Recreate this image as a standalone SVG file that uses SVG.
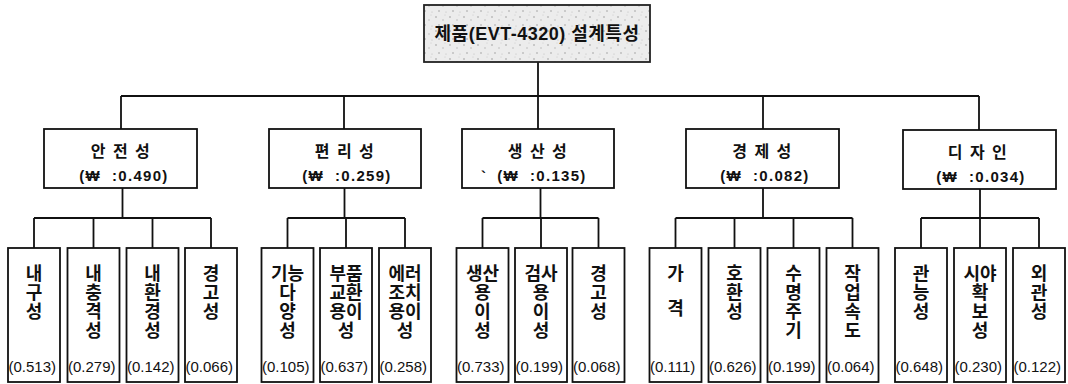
<svg xmlns="http://www.w3.org/2000/svg" width="1068" height="384" viewBox="0 0 1068 384">
<defs>
<pattern id="speck" width="14" height="14" patternUnits="userSpaceOnUse">
<rect width="14" height="14" fill="#ececec"/>
<circle cx="2" cy="3" r="0.8" fill="#9a9a9a"/>
<circle cx="9" cy="6" r="0.7" fill="#b0b0b0"/>
<circle cx="5" cy="11" r="0.8" fill="#a0a0a0"/>
<circle cx="12" cy="12" r="0.6" fill="#bdbdbd"/>
<circle cx="11" cy="1" r="0.5" fill="#c4c4c4"/>
</pattern>
</defs>
<style>
.box{fill:#fff;stroke:#111;stroke-width:1.8}
.root{fill:url(#speck);stroke:#222;stroke-width:1.8}
.ln{fill:none;stroke:#111;stroke-width:1.8}
.t{font-family:"Liberation Sans","Noto Sans CJK KR",sans-serif;fill:#111}
.b{font-weight:bold}
.cat{font-size:16px;text-anchor:middle;letter-spacing:1.5px}
.w{font-size:15px;text-anchor:middle;letter-spacing:1.3px}
.leaf{font-size:18px;text-anchor:middle}
.val{font-size:15px}
</style>
<rect width="1068" height="384" fill="#fff"/>
<g id="connectors">
<path class="ln" d="M538 62V96M121 96H979M121 96V129M344 96V129M538 96V129M763 96V129M979 96V130"/>
<path class="ln" d="M122.5 188V218M34 218H211M34 218V248M93.5 218V248M152.5 218V248M211 218V248"/>
<path class="ln" d="M344.5 188V218M287.5 218H405M287.5 218V248M346 218V248M405 218V248"/>
<path class="ln" d="M540.5 188V218M482.5 218H598.5M482.5 218V248M541 218V248M598.5 218V248"/>
<path class="ln" d="M763 188V218M675.5 218H852.5M675.5 218V248M734.5 218V248M793.5 218V248M852.5 218V248"/>
<path class="ln" d="M980 189V218M921 218H1039M921 218V248M980 218V248M1039 218V248"/>
</g>
<g id="root">
<rect class="root" x="424" y="5" width="226" height="57"/>
<text class="t b" x="537" y="40" font-size="18" text-anchor="middle" letter-spacing="0.5">제품(EVT-4320) 설계특성</text>
</g>
<g id="cat-safety">
<rect class="box" x="44" y="129" width="153" height="59"/>
<text class="t b cat" x="121" y="157">안 전 성</text>
<text class="t b w" x="124" y="181" xml:space="preserve">(₩  :0.490)</text>
</g>
<g id="cat-convenience">
<rect class="box" x="269" y="129" width="152" height="59"/>
<text class="t b cat" x="345" y="157">편 리 성</text>
<text class="t b w" x="347" y="181" xml:space="preserve">(₩  :0.259)</text>
</g>
<g id="cat-productivity">
<rect class="box" x="462" y="129" width="152" height="59"/>
<text class="t b cat" x="538" y="157">생 산 성</text>
<text class="t b w" x="481" y="182" style="text-anchor:start">`</text>
<text class="t b w" x="542" y="181" xml:space="preserve">(₩  :0.135)</text>
</g>
<g id="cat-economy">
<rect class="box" x="686" y="129" width="153" height="59"/>
<text class="t b cat" x="762.5" y="157">경 제 성</text>
<text class="t b w" x="765" y="181" xml:space="preserve">(₩  :0.082)</text>
</g>
<g id="cat-design">
<rect class="box" x="903" y="130" width="153" height="59"/>
<text class="t b cat" x="978" y="158">디 자 인</text>
<text class="t b w" x="981" y="182" xml:space="preserve">(₩  :0.034)</text>
</g>
<g id="leaf-1"><rect class="box" x="8" y="248" width="52" height="134"/>
<text class="t b leaf"><tspan x="34" y="280">내</tspan><tspan x="34" y="299">구</tspan><tspan x="34" y="318">성</tspan></text>
<text class="t val" x="8.5" y="372">(0.513)</text></g>
<g id="leaf-2"><rect class="box" x="67.5" y="248" width="52" height="134"/>
<text class="t b leaf"><tspan x="93.5" y="280">내</tspan><tspan x="93.5" y="299">충</tspan><tspan x="93.5" y="318">격</tspan><tspan x="93.5" y="337">성</tspan></text>
<text class="t val" x="68" y="372">(0.279)</text></g>
<g id="leaf-3"><rect class="box" x="126.5" y="248" width="52" height="134"/>
<text class="t b leaf"><tspan x="152.5" y="280">내</tspan><tspan x="152.5" y="299">환</tspan><tspan x="152.5" y="318">경</tspan><tspan x="152.5" y="337">성</tspan></text>
<text class="t val" x="127" y="372">(0.142)</text></g>
<g id="leaf-4"><rect class="box" x="185" y="248" width="52" height="134"/>
<text class="t b leaf"><tspan x="211" y="280">경</tspan><tspan x="211" y="299">고</tspan><tspan x="211" y="318">성</tspan></text>
<text class="t val" x="185.5" y="372">(0.066)</text></g>
<g id="leaf-5"><rect class="box" x="261.5" y="248" width="52" height="134"/>
<text class="t b leaf"><tspan x="287.5" y="280">기능</tspan><tspan x="287.5" y="299">다</tspan><tspan x="287.5" y="318">양</tspan><tspan x="287.5" y="337">성</tspan></text>
<text class="t val" x="262" y="372">(0.105)</text></g>
<g id="leaf-6"><rect class="box" x="320" y="248" width="52" height="134"/>
<text class="t b leaf"><tspan x="346" y="280">부품</tspan><tspan x="346" y="299">교환</tspan><tspan x="346" y="318">용이</tspan><tspan x="346" y="337">성</tspan></text>
<text class="t val" x="320.5" y="372">(0.637)</text></g>
<g id="leaf-7"><rect class="box" x="379" y="248" width="52" height="134"/>
<text class="t b leaf"><tspan x="405" y="280">에러</tspan><tspan x="405" y="299">조치</tspan><tspan x="405" y="318">용이</tspan><tspan x="405" y="337">성</tspan></text>
<text class="t val" x="379.5" y="372">(0.258)</text></g>
<g id="leaf-8"><rect class="box" x="456.5" y="248" width="52" height="134"/>
<text class="t b leaf"><tspan x="482.5" y="280">생산</tspan><tspan x="482.5" y="299">용</tspan><tspan x="482.5" y="318">이</tspan><tspan x="482.5" y="337">성</tspan></text>
<text class="t val" x="457" y="372">(0.733)</text></g>
<g id="leaf-9"><rect class="box" x="515" y="248" width="52" height="134"/>
<text class="t b leaf"><tspan x="541" y="280">검사</tspan><tspan x="541" y="299">용</tspan><tspan x="541" y="318">이</tspan><tspan x="541" y="337">성</tspan></text>
<text class="t val" x="515.5" y="372">(0.199)</text></g>
<g id="leaf-10"><rect class="box" x="572.5" y="248" width="52" height="134"/>
<text class="t b leaf"><tspan x="598.5" y="280">경</tspan><tspan x="598.5" y="299">고</tspan><tspan x="598.5" y="318">성</tspan></text>
<text class="t val" x="573" y="372">(0.068)</text></g>
<g id="leaf-11"><rect class="box" x="649.5" y="248" width="52" height="134"/>
<text class="t b leaf"><tspan x="675.5" y="280">가</tspan><tspan x="675.5" y="315">격</tspan></text>
<text class="t val" x="650" y="372">(0.111)</text></g>
<g id="leaf-12"><rect class="box" x="708.5" y="248" width="52" height="134"/>
<text class="t b leaf"><tspan x="734.5" y="280">호</tspan><tspan x="734.5" y="299">환</tspan><tspan x="734.5" y="318">성</tspan></text>
<text class="t val" x="709" y="372">(0.626)</text></g>
<g id="leaf-13"><rect class="box" x="767.5" y="248" width="52" height="134"/>
<text class="t b leaf"><tspan x="793.5" y="280">수</tspan><tspan x="793.5" y="299">명</tspan><tspan x="793.5" y="318">주</tspan><tspan x="793.5" y="337">기</tspan></text>
<text class="t val" x="768" y="372">(0.199)</text></g>
<g id="leaf-14"><rect class="box" x="826.5" y="248" width="52" height="134"/>
<text class="t b leaf"><tspan x="852.5" y="280">작</tspan><tspan x="852.5" y="299">업</tspan><tspan x="852.5" y="318">속</tspan><tspan x="852.5" y="337">도</tspan></text>
<text class="t val" x="827" y="372">(0.064)</text></g>
<g id="leaf-15"><rect class="box" x="895" y="248" width="52" height="134"/>
<text class="t b leaf"><tspan x="921" y="280">관</tspan><tspan x="921" y="299">능</tspan><tspan x="921" y="318">성</tspan></text>
<text class="t val" x="895.5" y="372">(0.648)</text></g>
<g id="leaf-16"><rect class="box" x="954" y="248" width="52" height="134"/>
<text class="t b leaf"><tspan x="980" y="280">시야</tspan><tspan x="980" y="299">확</tspan><tspan x="980" y="318">보</tspan><tspan x="980" y="337">성</tspan></text>
<text class="t val" x="954.5" y="372">(0.230)</text></g>
<g id="leaf-17"><rect class="box" x="1013" y="248" width="52" height="134"/>
<text class="t b leaf"><tspan x="1039" y="280">외</tspan><tspan x="1039" y="299">관</tspan><tspan x="1039" y="318">성</tspan></text>
<text class="t val" x="1013.5" y="372">(0.122)</text></g>
</svg>
